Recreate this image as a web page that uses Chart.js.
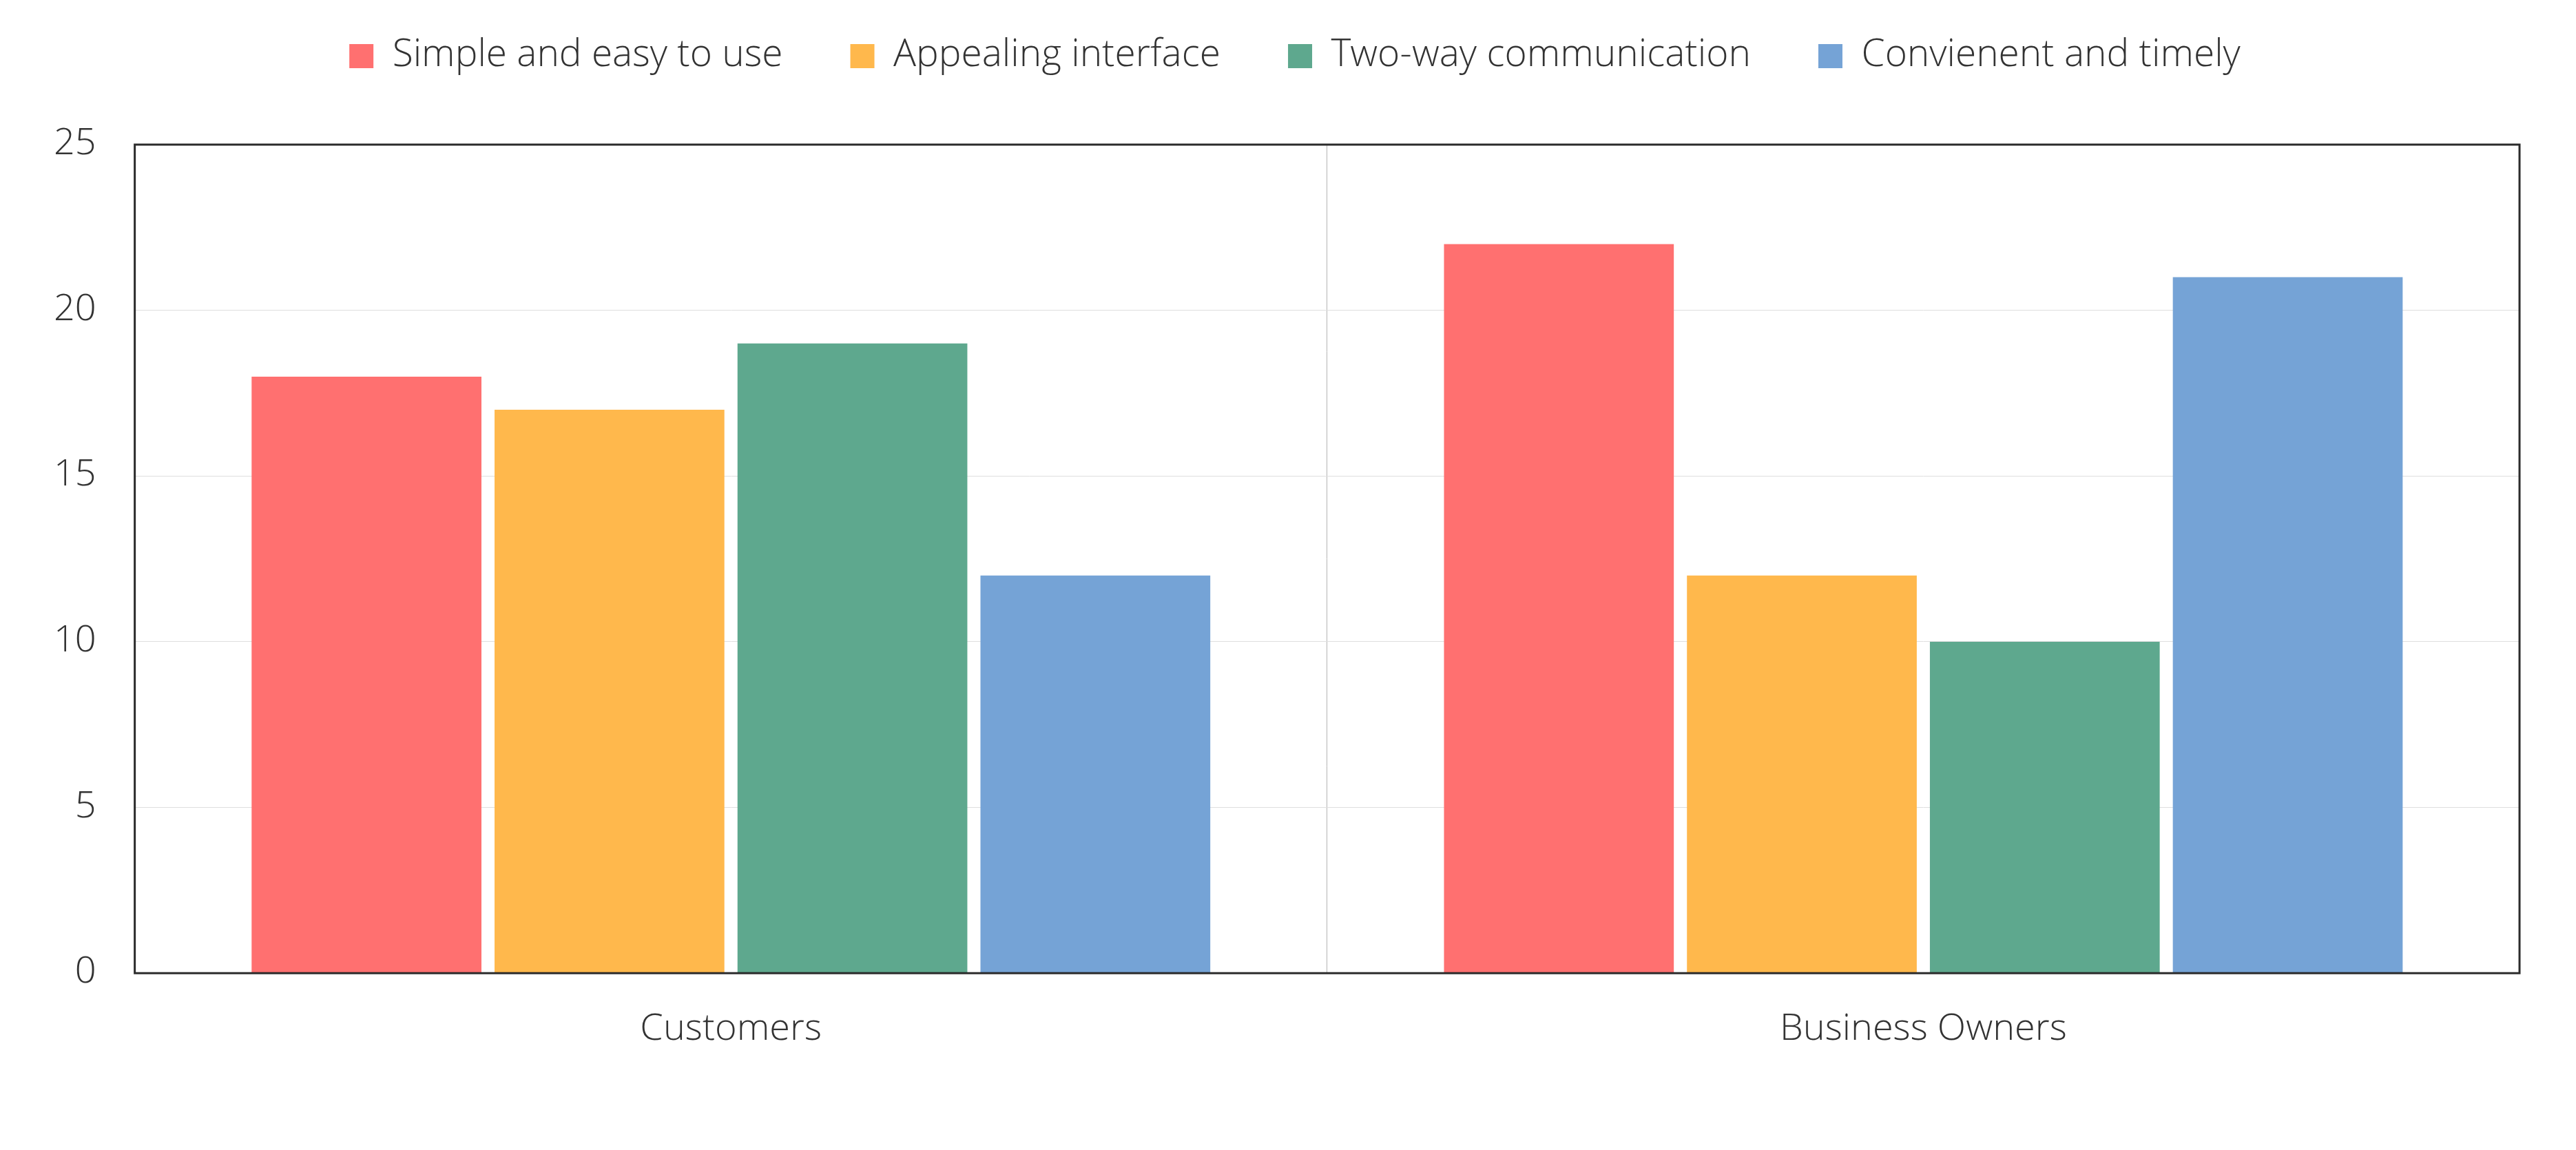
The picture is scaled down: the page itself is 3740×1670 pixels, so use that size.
<!DOCTYPE html>
<html>
<head>
<meta charset="utf-8">
<script src="https://cdn.jsdelivr.net/npm/chart.js@4"></script>
<style>
	html, body { margin: 0; padding: 0; background: #fff; }
	#wrap { width: 3740px; height: 1670px; }
</style>
</head>
<body>
<div id="wrap"><canvas id="chart_ref"></canvas></div>
<script>
const categories = ["Customers", "Business Owners"];
const seriesNames = ["Simple and easy to use", "Appealing interface", "Two-way communication", "Convienent and timely"];
const simpleEasy = [18, 22];
const appealing = [17, 12];
const twoWay = [19, 10];
const convenient = [12, 21];
const yTicks = [0, 5, 10, 15, 20, 25];

const colors = ["#ff7070", "#ffb84c", "#5ea88e", "#75a3d6"];
const textColor = "#333333";
const fontFamily = "'Open Sans Light', 'Open Sans', sans-serif";

// frame around the plot area, drawn on top of the bars
const framePlugin = {
	id: "frame",
	afterLayout(chart) {
		// pull the legend row up, the padding is only there for the item spacing
		const lg = chart.legend;
		if (lg) {
			lg.top -= 91;
			lg.bottom -= 91;
			lg.left += 40;
			lg.right += 40;
		}
	},
	afterDatasetsDraw(chart) {
		const { ctx, chartArea: a } = chart;
		ctx.save();
		ctx.strokeStyle = "#2b2b2b";
		ctx.lineWidth = 3;
		ctx.strokeRect(a.left, a.top, a.right - a.left, a.bottom - a.top);
		ctx.restore();
	},
};

const values = [simpleEasy, appealing, twoWay, convenient];

new Chart(document.getElementById("chart_ref"), {
	type: "bar",
	data: {
		labels: categories,
		datasets: seriesNames.map((name, i) => ({
			label: name,
			data: values[i],
			backgroundColor: colors[i],
			borderWidth: 0,
			categoryPercentage: 0.815,
			barPercentage: 0.946,
		})),
	},
	options: {
		responsive: true,
		maintainAspectRatio: false,
		animation: false,
		layout: { padding: { top: 47, left: 22, right: 82, bottom: 92 } },
		font: { family: fontFamily, weight: 300, size: 54 },
		plugins: {
			legend: {
				position: "top",
				labels: {
					color: textColor,
					boxWidth: 35,
					boxHeight: 35,
					padding: 98,
					font: { family: fontFamily, weight: 300, size: 55 },
				},
			},
			tooltip: { enabled: false },
		},
		scales: {
			x: {
				grid: { offset: true, color: "#b4b4b4", lineWidth: 1, drawTicks: false },
				border: { display: false },
				ticks: {
					color: textColor,
					padding: 50,
					font: { family: fontFamily, weight: 300, size: 54 },
				},
			},
			y: {
				min: yTicks[0],
				max: yTicks[yTicks.length - 1],
				afterBuildTicks(axis) {
					axis.ticks = yTicks.map((v) => ({ value: v }));
				},
				grid: { color: "#dedede", lineWidth: 1, drawTicks: false },
				border: { display: false },
				ticks: {
					color: textColor,
					padding: 56,
					font: { family: fontFamily, weight: 300, size: 54 },
				},
			},
		},
	},
	plugins: [framePlugin],
});
</script>
</body>
</html>
